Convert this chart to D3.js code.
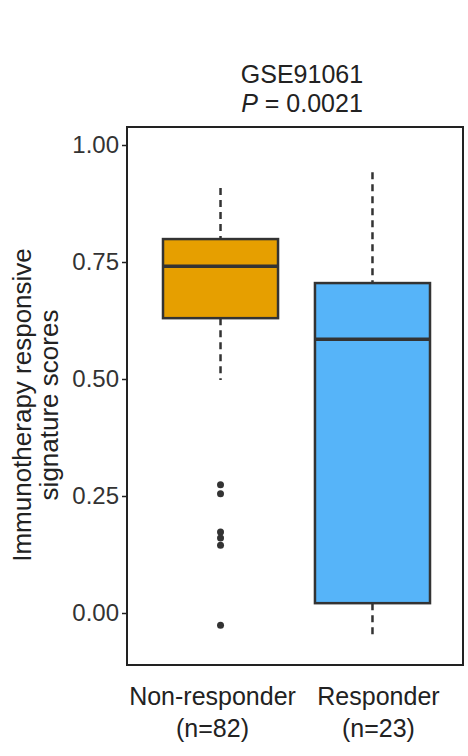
<!DOCTYPE html>
<html><head><meta charset="utf-8">
<script src="https://cdn.jsdelivr.net/npm/d3@7"></script>
<style>body{margin:0;background:#fff}text{font-family:Arial,"Liberation Sans",sans-serif}</style>
</head><body><svg id="c" width="468" height="756"></svg>
<script>
const categories = ["Non-responder", "Responder"];
const counts = ["(n=82)", "(n=23)"];
const colors = ["#E69F00", "#56B4F9"];
const q1 = [0.630, 0.021];
const median = [0.741, 0.585];
const q3 = [0.799, 0.705];
const whiskerLow = [0.498, -0.053];
const whiskerHigh = [0.908, 0.942];
const outliers = [[0.274, 0.255, 0.173, 0.160, 0.145, -0.026], []];
const yTicks = [0, 0.25, 0.5, 0.75, 1.0];

const svg = d3.select("#c");
const L = 127, R = 463, T = 127, B = 665;
const y = d3.scaleLinear().domain([0, 1]).range([613, 145]);
const x = d3.scaleBand().domain(categories).range([163, 430]).paddingInner(0.243).paddingOuter(0);

svg.append("rect").attr("x", L).attr("y", T).attr("width", R - L).attr("height", B - T)
  .attr("fill", "none").attr("stroke", "#222").attr("stroke-width", 2);

const ya = svg.append("g").attr("transform", `translate(${L},0)`)
  .call(d3.axisLeft(y).tickValues(yTicks).tickFormat(d3.format(".2f")).tickSize(5));
ya.select(".domain").remove();
ya.selectAll("line").attr("stroke", "#222").attr("stroke-width", 1.5);
ya.selectAll("text").attr("font-size", 24).attr("fill", "#333");

categories.forEach((c, i) => {
  const cx = x(c) + x.bandwidth() / 2, w = x.bandwidth();
  const g = svg.append("g");
  g.append("line").attr("x1", cx).attr("x2", cx).attr("y1", y(whiskerHigh[i])).attr("y2", y(q3[i]))
    .attr("stroke", "#333").attr("stroke-width", 2.5).attr("stroke-dasharray", "7,5");
  g.append("line").attr("x1", cx).attr("x2", cx).attr("y1", y(q1[i])).attr("y2", y(whiskerLow[i]))
    .attr("stroke", "#333").attr("stroke-width", 2.5).attr("stroke-dasharray", "7,5");
  g.append("rect").attr("x", x(c)).attr("width", w).attr("y", y(q3[i])).attr("height", y(q1[i]) - y(q3[i]))
    .attr("fill", colors[i]).attr("stroke", "#333").attr("stroke-width", 2.5);
  g.append("line").attr("x1", x(c)).attr("x2", x(c) + w).attr("y1", y(median[i])).attr("y2", y(median[i]))
    .attr("stroke", "#333").attr("stroke-width", 3.5);
  outliers[i].forEach(v => g.append("circle").attr("cx", cx).attr("cy", y(v)).attr("r", 3.5).attr("fill", "#333"));
  svg.append("text").attr("x", cx + (i === 0 ? -8 : 6)).attr("y", 705).attr("text-anchor", "middle").attr("font-size", 25).attr("fill", "#222").text(c);
  svg.append("text").attr("x", cx + (i === 0 ? -8 : 6)).attr("y", 737).attr("text-anchor", "middle").attr("font-size", 25).attr("fill", "#222").text(counts[i]);
});

svg.append("text").attr("x", 302).attr("y", 83).attr("text-anchor", "middle").attr("font-size", 25).attr("fill", "#222").text("GSE91061");
const p = svg.append("text").attr("x", 302).attr("y", 112).attr("text-anchor", "middle").attr("font-size", 25).attr("fill", "#222");
p.append("tspan").attr("font-style", "italic").text("P");
p.append("tspan").text(" = 0.0021");

const yl = svg.append("text").attr("transform", "translate(31,405) rotate(-90)").attr("text-anchor", "middle").attr("font-size", 26).attr("fill", "#222");
yl.append("tspan").attr("x", 0).attr("dy", 0).text("Immunotherapy responsive");
yl.append("tspan").attr("x", 0).attr("dy", 27).text("signature scores");
</script></body></html>
